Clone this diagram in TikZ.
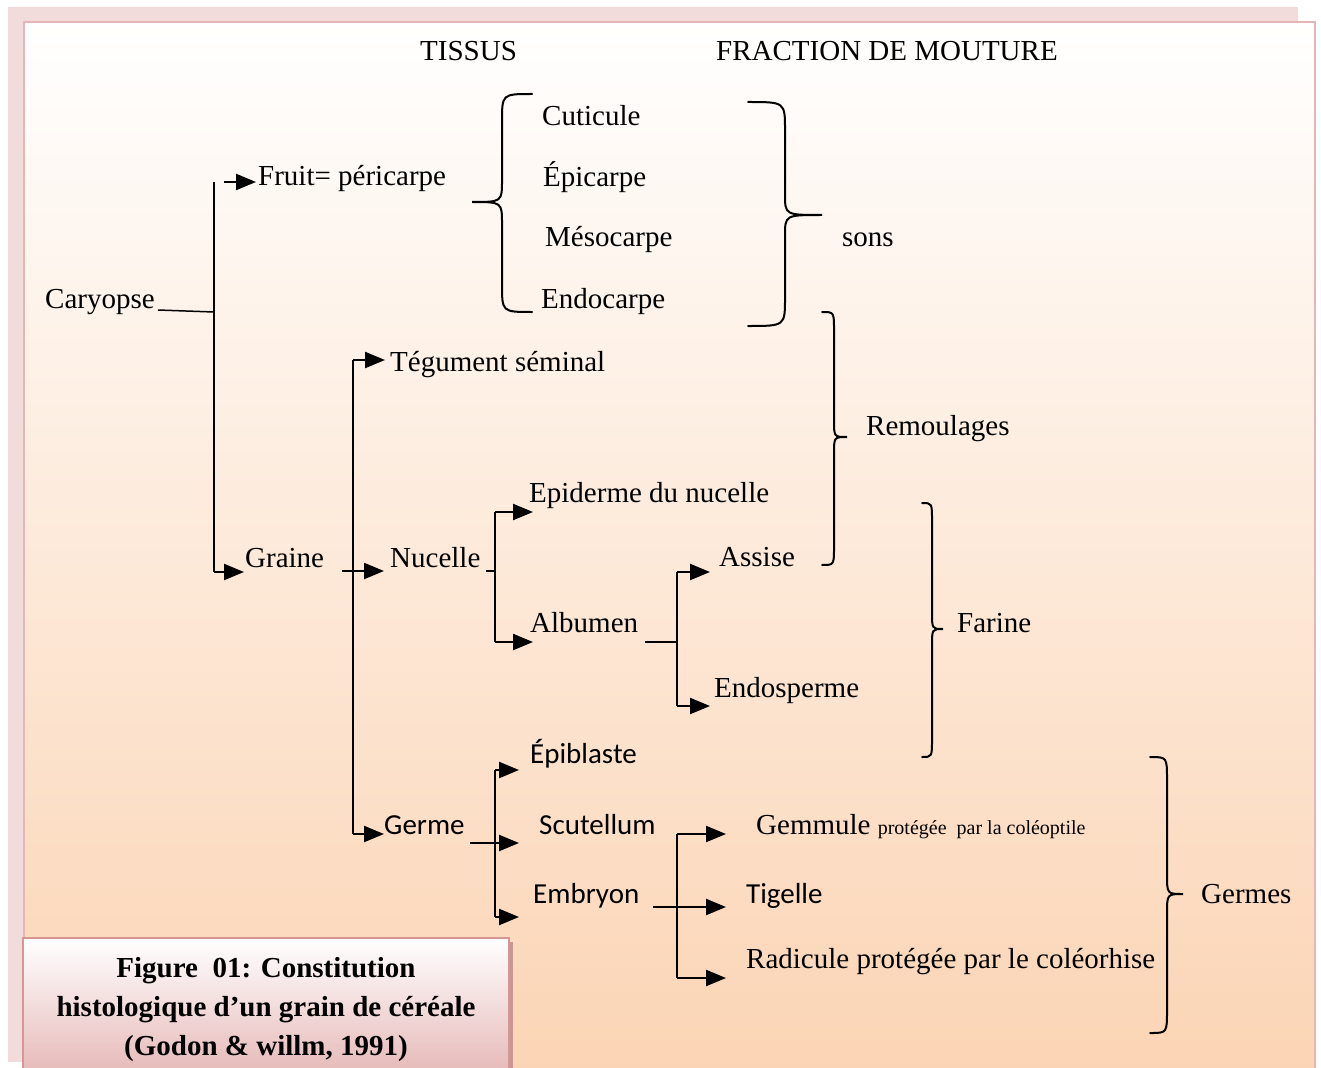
\documentclass[tikz,border=0pt]{standalone}
\usepackage{fontspec}
\setmainfont{Liberation Serif}
\newfontfamily\calib{Carlito}
\usetikzlibrary{arrows.meta}
\definecolor{shadowpink}{RGB}{242,220,219}
\definecolor{panelborder}{RGB}{228,182,181}
\definecolor{peach}{RGB}{251,212,180}
\definecolor{capbottom}{RGB}{229,183,182}
\definecolor{capborder}{RGB}{214,150,148}
\definecolor{capshadow}{RGB}{200,150,148}
\tikzset{
  lbl/.style={anchor=base west, inner sep=0pt, font=\fontsize{29}{34}\selectfont},
  lblc/.style={anchor=base west, inner sep=0pt, font=\fontsize{29}{34}\selectfont\calib},
  capt/.style={anchor=base, inner sep=0pt, font=\fontsize{29}{34}\selectfont\bfseries},
  con/.style={line width=2.3pt},
  arr/.style={line width=2.3pt, -{Triangle[length=20pt,width=16pt]}},
  stub/.style={line width=1.5pt},
  brace/.style={line width=2pt, line cap=round},
}
\begin{document}
\begin{tikzpicture}[x=1pt,y=-1pt]
\useasboundingbox (0,0) rectangle (1321,1067);
\fill[white] (0,0) rectangle (1321,1067);
% frame
\fill[shadowpink] (8,7) rectangle (1298,1062);
\shade[top color=white, bottom color=peach] (24,22) rectangle (1315,1077);
\draw[panelborder, line width=2pt] (24,1077) -- (24,22) -- (1315,22) -- (1315,1077);

% headings
\node[lbl] (tissus) at (420,61) {TISSUS};
\node[lbl] (fraction) at (716,61) {FRACTION DE MOUTURE};

% texts
\node[lbl] (cuticule) at (542,126) {Cuticule};
\node[lbl] (epicarpe) at (543,187) {Épicarpe};
\node[lbl] (mesocarpe) at (545,247) {Mésocarpe};
\node[lbl] (endocarpe) at (541,308) {Endocarpe};
\node[lbl] (fruit) at (258,186) {Fruit= péricarpe};
\node[lbl] (caryopse) at (45,308) {Caryopse};
\node[lbl] (sons) at (842,247) {sons};
\node[lbl] (tegument) at (390,371) {Tégument séminal};
\node[lbl] (remoulages) at (866,435) {Remoulages};
\node[lbl] (epiderme) at (529,502) {Epiderme du nucelle};
\node[lbl] (graine) at (245,567) {Graine};
\node[lbl] (nucelle) at (390,567) {Nucelle};
\node[lbl] (assise) at (719,566) {Assise};
\node[lbl] (albumen) at (530,632) {Albumen};
\node[lbl] (farine) at (957,632) {Farine};
\node[lbl] (endosperme) at (714,697) {Endosperme};
\node[lblc] (epiblaste) at (530,763) {Épiblaste};
\node[lblc] (germe) at (384,834) {Germe};
\node[lblc] (scutellum) at (539,834) {Scutellum};
\node[lblc] (embryon) at (533,903) {Embryon};
\node[lbl] (gemmule) at (756,834) {Gemmule {\fontsize{20}{24}\selectfont protégée\ \ par la coléoptile}};
\node[lblc] (tigelle) at (746,903) {Tigelle};
\node[lbl] (radicule) at (746,968) {Radicule protégée par le coléorhise};
\node[lbl] (germes) at (1201,903) {Germes};

% junction coordinates
\coordinate (caryEnd) at (158,310);
\coordinate (v1mid) at (214,312);
\coordinate (v1top) at (214,182);
\coordinate (v1bot) at (214,572);
\coordinate (fruitS) at (224,182);
\coordinate (fruitA) at (256,182);
\coordinate (graineA) at (244,572);

\coordinate (graineS) at (342,571);
\coordinate (nucelleA) at (384,571);
\coordinate (v2top) at (353,360);
\coordinate (v2bot) at (353,834);
\coordinate (tegA) at (385,360);
\coordinate (germeA) at (384,834);

\coordinate (nucS) at (486,571);
\coordinate (v3mid) at (495,571);
\coordinate (v3top) at (495,512);
\coordinate (v3bot) at (495,642);
\coordinate (epiA) at (533,512);
\coordinate (albA) at (533,642);

\coordinate (albS) at (645,642);
\coordinate (v4mid) at (677,642);
\coordinate (v4top) at (677,572);
\coordinate (v4bot) at (677,706);
\coordinate (assA) at (710,572);
\coordinate (endoA) at (710,706);

\coordinate (germS) at (470,843);
\coordinate (scutA) at (519,843);
\coordinate (v5top) at (495,770);
\coordinate (v5bot) at (495,917);
\coordinate (epibA) at (519,770);
\coordinate (embA) at (519,917);

\coordinate (embS) at (653,907);
\coordinate (tigA) at (726,907);
\coordinate (v6top) at (677,834);
\coordinate (v6bot) at (677,978);
\coordinate (gemA) at (726,834);
\coordinate (radA) at (726,978);

% connectors
\draw[stub] (caryEnd) -- (v1mid);
\draw[con] (v1top) -- (v1bot);
\draw[arr] (v1bot) -- (graineA);
\draw[arr] (fruitS) -- (fruitA);

\draw[con] (v2top) -- (v2bot);
\draw[arr] (graineS) -- (nucelleA);
\draw[arr] (v2top) -- (tegA);
\draw[arr] (v2bot) -- (germeA);

\draw[stub] (nucS) -- (v3mid);
\draw[con] (v3top) -- (v3bot);
\draw[arr] (v3top) -- (epiA);
\draw[arr] (v3bot) -- (albA);

\draw[stub] (albS) -- (v4mid);
\draw[con] (v4top) -- (v4bot);
\draw[arr] (v4top) -- (assA);
\draw[arr] (v4bot) -- (endoA);

\draw[con] (v5top) -- (v5bot);
\draw[arr] (germS) -- (scutA);
\draw[arr] (v5top) -- (epibA);
\draw[arr] (v5bot) -- (embA);

\draw[con] (v6top) -- (v6bot);
\draw[arr] (embS) -- (tigA);
\draw[arr] (v6top) -- (gemA);
\draw[arr] (v6bot) -- (radA);

% braces
\draw[brace] (532,94) .. controls (502,94) .. (502,122) -- (502,180)
  .. controls (502,202) .. (472,202) .. controls (502,202) .. (502,224)
  -- (502,284) .. controls (502,312) .. (532,312);
\draw[brace] (748,102) .. controls (785,102) .. (785,130) -- (785,194)
  .. controls (785,215) .. (822,215) .. controls (785,215) .. (785,236)
  -- (785,298) .. controls (785,326) .. (748,326);
\draw[brace] (822,312) .. controls (834,312) .. (834,330) -- (834,420)
  .. controls (834,437) .. (847,437) .. controls (834,437) .. (834,454)
  -- (834,547) .. controls (834,565) .. (822,565);
\draw[brace] (922,503) .. controls (932,503) .. (932,521) -- (932,612)
  .. controls (932,629) .. (943,629) .. controls (932,629) .. (932,646)
  -- (932,739) .. controls (932,757) .. (922,757);
\draw[brace] (1150,757) .. controls (1167,757) .. (1167,780) -- (1167,874)
  .. controls (1167,894) .. (1183,894) .. controls (1167,894) .. (1167,914)
  -- (1167,1010) .. controls (1167,1033) .. (1150,1033);

% caption box
\fill[capshadow] (27,942) rectangle (513,1080);
\shade[top color=white, bottom color=capbottom] (23,938) rectangle (509,1078);
\draw[capborder, line width=1.5pt] (23,1078) -- (23,938) -- (509,938) -- (509,1078);
\node[capt] (cap1) at (266,977) {Figure\ \ 01: Constitution};
\node[capt] (cap2) at (266,1016) {histologique d’un grain de céréale};
\node[capt] (cap3) at (266,1055) {(Godon \& willm, 1991)};
\end{tikzpicture}
\end{document}
